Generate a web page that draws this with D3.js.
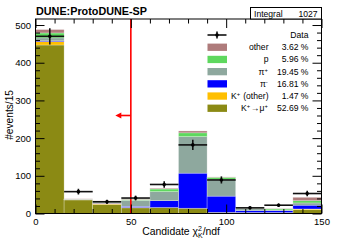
<!DOCTYPE html>
<html>
<head>
  <meta charset="utf-8">
  <title>chi2 K</title>
  <script src="https://cdn.jsdelivr.net/npm/d3@7"></script>
  <style>
    body { margin: 0; background: #fff; }
    text { font-family: "Liberation Sans", Arial, sans-serif; fill: #000; }
  </style>
</head>
<body>
<script>
  // bins of 15 in chi2/ndf
  var binLow = [0, 15, 30, 45, 60, 75, 90, 105, 120, 135];
  var binWidth = 15;

  // stacked MC, bottom to top
  var kMu     = [447, 36, 24, 15, 16, 14, 3, 2, 2, 10];
  var kOther  = [9, 0.5, 3, 1, 0, 0, 0, 0.5, 0.5, 2];
  var piMinus = [2, 0.5, 1, 3, 18, 93, 43, 5, 5, 10];
  var piPlus  = [8, 0.5, 2, 16, 24, 97, 45, 5, 2, 6];
  var proton  = [13, 0.5, 3, 2, 7, 10, 5, 1, 3, 6];
  var other   = [9, 1, 0.5, 1, 2, 5, 1, 0.5, 1, 9];

  var dataCounts = [470, 58, 31, 41, 77, 182, 89, 15, 22, 53];

  var legendLabels = ["other", "p", "π^{+}", "π^{-}", "K^{+} (other)", "K^{+}→μ^{+}"];
  var legendPct = ["3.62 %", "5.96 %", "19.45 %", "16.81 %", "1.47 %", "52.69 %"];
  var colors = ["#ae7b7b", "#5ed85e", "#8ea89e", "#0000ff", "#ffbf00", "#8b8a14"];

  var xMajor = [0, 50, 100, 150];
  var yMajor = [0, 100, 200, 300, 400, 500];
  var cutValue = 50;

  var W = 357, H = 244;
  var fLeft = 35.5, fRight = 321.5, fTop = 19, fBottom = 213.5;

  var svg = d3.select("body").append("svg")
    .attr("width", W)
    .attr("height", H);

  var x = d3.scaleLinear().domain([0, 150]).range([fLeft, fRight]);
  var y = d3.scaleLinear().domain([0, 516]).range([fBottom, fTop]);

  // stack
  var stackSeries = [kMu, kOther, piMinus, piPlus, proton, other];
  var stackColors = colors.slice().reverse();
  var rows = binLow.map(function (b, i) {
    var r = { low: b };
    stackSeries.forEach(function (s, k) { r["s" + k] = s[i]; });
    return r;
  });
  var stack = d3.stack().keys(stackSeries.map(function (s, k) { return "s" + k; }));
  var layers = stack(rows);

  svg.append("g").selectAll("g")
    .data(layers)
    .enter()
    .append("g")
    .attr("fill", function (d, k) { return stackColors[k]; })
    .selectAll("rect")
    .data(function (d) { return d; })
    .enter()
    .append("rect")
    .attr("x", function (d) { return x(d.data.low); })
    .attr("width", x(binWidth) - x(0))
    .attr("y", function (d) { return y(d[1]); })
    .attr("height", function (d) { return y(d[0]) - y(d[1]); })
    .attr("stroke", "#fff")
    .attr("stroke-opacity", 0.45)
    .attr("stroke-width", 0.6);

  // cut line and arrow
  svg.append("line")
    .attr("x1", x(cutValue)).attr("x2", x(cutValue))
    .attr("y1", fTop).attr("y2", fBottom)
    .attr("stroke", "#ff0000").attr("stroke-width", 1.6);
  svg.append("line")
    .attr("x1", x(cutValue)).attr("x2", x(cutValue) - 11)
    .attr("y1", y(260)).attr("y2", y(260))
    .attr("stroke", "#ff0000").attr("stroke-width", 1.6);
  var ax = x(cutValue) - 15.5, ay = y(260);
  svg.append("path")
    .attr("d", "M" + ax + "," + ay + "L" + (ax + 6) + "," + (ay - 3) + "L" + (ax + 6) + "," + (ay + 3) + "Z")
    .attr("fill", "#ff0000");

  // data points
  var pts = svg.append("g").attr("stroke", "#111").attr("stroke-width", 1.6);
  dataCounts.forEach(function (n, i) {
    var cx = x(binLow[i] + binWidth / 2);
    var e = Math.sqrt(n);
    pts.append("line")
      .attr("x1", x(binLow[i])).attr("x2", x(binLow[i] + binWidth))
      .attr("y1", y(n)).attr("y2", y(n));
    pts.append("line")
      .attr("x1", cx).attr("x2", cx)
      .attr("y1", y(n - e)).attr("y2", y(n + e));
    pts.append("circle")
      .attr("cx", cx).attr("cy", y(n)).attr("r", 1.8)
      .attr("fill", "#000").attr("stroke", "none");
  });

  // axes (ticks inward)
  var yMinor = d3.range(0, 516, 20).filter(function (v) { return v % 100 !== 0; });
  var xMinor = d3.range(0, 151, 10).filter(function (v) { return v % 50 !== 0; });

  function styleAxis(g) {
    g.select(".domain").remove();
    g.selectAll("line").attr("stroke", "#000");
    g.selectAll("text").attr("font-size", "9.5px").attr("fill", "#000")
      .style("font-family", "Liberation Sans, Arial, sans-serif");
  }

  svg.append("g").attr("transform", "translate(" + fLeft + ",0)")
    .call(d3.axisLeft(y).tickValues(yMajor).tickSize(-9).tickPadding(4.5))
    .call(styleAxis);
  svg.append("g").attr("transform", "translate(" + fLeft + ",0)")
    .call(d3.axisLeft(y).tickValues(yMinor).tickSize(-4.5).tickFormat(""))
    .call(styleAxis);
  svg.append("g").attr("transform", "translate(" + fRight + ",0)")
    .call(d3.axisRight(y).tickValues(yMajor).tickSize(-9).tickFormat(""))
    .call(styleAxis);
  svg.append("g").attr("transform", "translate(" + fRight + ",0)")
    .call(d3.axisRight(y).tickValues(yMinor).tickSize(-4.5).tickFormat(""))
    .call(styleAxis);

  svg.append("g").attr("transform", "translate(0," + fBottom + ")")
    .call(d3.axisBottom(x).tickValues(xMajor).tickSize(-9).tickPadding(4.5))
    .call(styleAxis);
  svg.append("g").attr("transform", "translate(0," + fBottom + ")")
    .call(d3.axisBottom(x).tickValues(xMinor).tickSize(-4.5).tickFormat(""))
    .call(styleAxis);
  svg.append("g").attr("transform", "translate(0," + fTop + ")")
    .call(d3.axisTop(x).tickValues(xMajor).tickSize(-9).tickFormat(""))
    .call(styleAxis);
  svg.append("g").attr("transform", "translate(0," + fTop + ")")
    .call(d3.axisTop(x).tickValues(xMinor).tickSize(-4.5).tickFormat(""))
    .call(styleAxis);

  // frame
  svg.append("rect")
    .attr("x", fLeft).attr("y", fTop)
    .attr("width", fRight - fLeft).attr("height", fBottom - fTop)
    .attr("fill", "none").attr("stroke", "#000").attr("stroke-width", 1);

  // titles
  svg.append("text")
    .attr("x", 36).attr("y", 15)
    .attr("font-size", "10.8px").attr("font-weight", "bold")
    .text("DUNE:ProtoDUNE-SP");

  svg.append("text")
    .attr("transform", "translate(12.5,90) rotate(-90)")
    .attr("text-anchor", "end")
    .attr("font-size", "10.2px")
    .text("#events/15");

  var xt = svg.append("text")
    .attr("x", 220).attr("y", 234.5)
    .attr("text-anchor", "end")
    .attr("font-size", "10.4px");
  xt.append("tspan").text("Candidate χ");
  xt.append("tspan").attr("dy", -4).attr("font-size", "7px").text("2");
  xt.append("tspan").attr("dx", -3.9).attr("dy", 7).attr("font-size", "7px").text("K");
  xt.append("tspan").attr("dy", -3).text("/ndf");

  // integral box
  svg.append("rect")
    .attr("x", 250.5).attr("y", 7.5).attr("width", 71).attr("height", 11.5)
    .attr("fill", "#fff").attr("stroke", "#000").attr("stroke-width", 1);
  svg.append("text").attr("x", 254).attr("y", 16.5).attr("font-size", "8.6px").text("Integral");
  svg.append("text").attr("x", 317.5).attr("y", 16.5).attr("font-size", "8.6px")
    .attr("text-anchor", "end").text("1027");

  // legend
  function richText(sel, label) {
    var parts = label.split(/\^\{([^}]*)\}/);
    parts.forEach(function (p, i) {
      if (p === "") return;
      if (i % 2 === 1) {
        sel.append("tspan").attr("dy", -3).attr("font-size", "5.8px").text(p);
        sel.append("tspan").attr("dy", 3).text("\u200a");
      } else {
        sel.append("tspan").text(p);
      }
    });
  }

  var legY0 = 35, legStep = 12.2;
  var lg = svg.append("g");
  lg.append("line").attr("x1", 207.5).attr("x2", 226.5).attr("y1", legY0).attr("y2", legY0)
    .attr("stroke", "#111").attr("stroke-width", 1.6);
  lg.append("line").attr("x1", 217).attr("x2", 217).attr("y1", legY0 - 3.5).attr("y2", legY0 + 3.5)
    .attr("stroke", "#111").attr("stroke-width", 1.6);
  lg.append("circle").attr("cx", 217).attr("cy", legY0).attr("r", 1.8).attr("fill", "#000");
  lg.append("text").attr("x", 308.5).attr("y", legY0 + 3).attr("text-anchor", "end")
    .attr("font-size", "8.6px").text("Data");

  legendLabels.forEach(function (lab, i) {
    var cy = legY0 + legStep * (i + 1);
    lg.append("rect")
      .attr("x", 207.5).attr("y", cy - 3.6).attr("width", 19.5).attr("height", 7.3)
      .attr("fill", colors[i]);
    var t = lg.append("text").attr("x", 268.5).attr("y", cy + 3)
      .attr("text-anchor", "end").attr("font-size", "8.6px");
    richText(t, lab);
    lg.append("text").attr("x", 308.5).attr("y", cy + 3)
      .attr("text-anchor", "end").attr("font-size", "8.6px").text(legendPct[i]);
  });
</script>
</body>
</html>
